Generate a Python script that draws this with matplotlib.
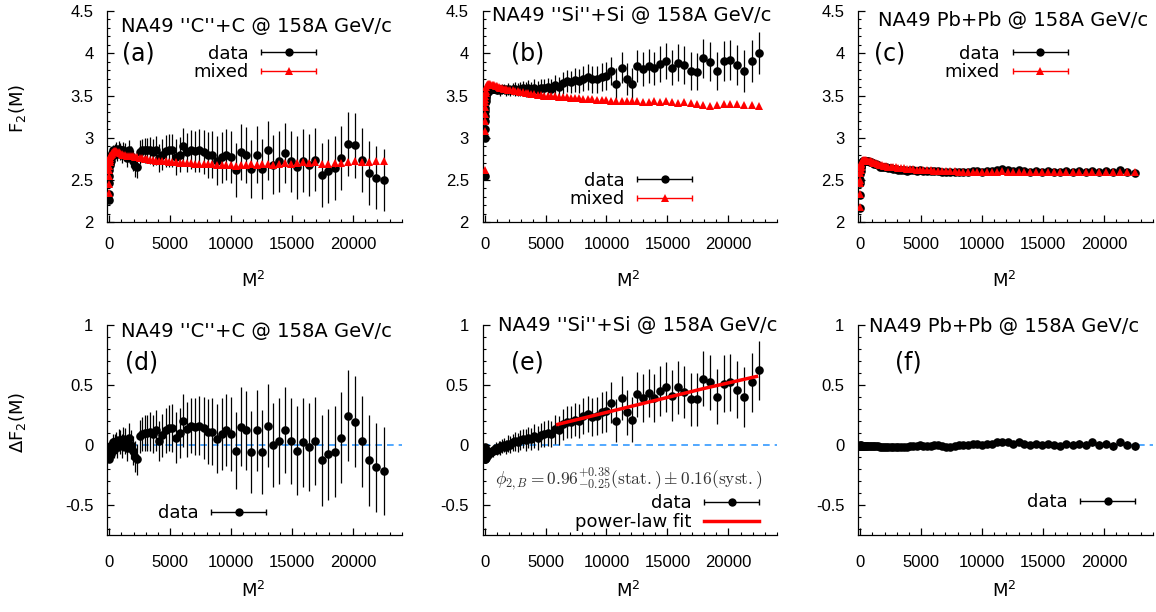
import numpy as np
import matplotlib
matplotlib.use("Agg")
import matplotlib.pyplot as plt
from matplotlib.lines import Line2D
from matplotlib.collections import LineCollection
from matplotlib.container import ErrorbarContainer
from matplotlib.legend_handler import HandlerErrorbar
from matplotlib.ticker import MultipleLocator, FuncFormatter

plt.rcParams["font.family"] = ["DejaVu Sans"]
plt.rcParams["axes.unicode_minus"] = False

# ---------------- data ----------------
# invariant-mass bins M (x axis shows M^2)
M_BINS = [1, 2, 3, 4, 5, 6, 7, 8, 9, 10] + list(range(12, 151, 2))

CC_DATA = [
    2.26, 2.34, 2.47, 2.55, 2.62, 2.68, 2.70, 2.74, 2.73, 2.78,
    2.72, 2.78, 2.82, 2.85, 2.80, 2.85, 2.87, 2.81, 2.87, 2.84,
    2.80, 2.85, 2.83, 2.76, 2.85, 2.78, 2.73, 2.67, 2.65, 2.83,
    2.85, 2.85, 2.85, 2.85, 2.83, 2.85, 2.76, 2.80, 2.84, 2.85,
    2.85, 2.77, 2.80, 2.90, 2.83, 2.86, 2.84, 2.85, 2.83, 2.80,
    2.80, 2.73, 2.77, 2.80, 2.77, 2.62, 2.83, 2.80, 2.63, 2.80,
    2.63, 2.85, 2.68, 2.72, 2.82, 2.72, 2.65, 2.73, 2.68, 2.74,
    2.56, 2.61, 2.64, 2.76, 2.93, 2.91, 2.74, 2.58, 2.53, 2.50]
CC_MIX = [
    2.35, 2.45, 2.55, 2.62, 2.67, 2.71, 2.74, 2.76, 2.78, 2.79,
    2.80, 2.81, 2.82, 2.83, 2.84, 2.84, 2.84, 2.83, 2.83, 2.82,
    2.81, 2.80, 2.80, 2.79, 2.79, 2.78, 2.78, 2.77, 2.77, 2.76,
    2.76, 2.75, 2.75, 2.74, 2.74, 2.73, 2.73, 2.72, 2.72, 2.71,
    2.71, 2.71, 2.70, 2.70, 2.70, 2.70, 2.69, 2.69, 2.69, 2.69,
    2.69, 2.68, 2.68, 2.68, 2.68, 2.67, 2.68, 2.68, 2.69, 2.68,
    2.69, 2.69, 2.68, 2.69, 2.70, 2.69, 2.70, 2.71, 2.70, 2.71,
    2.69, 2.69, 2.70, 2.70, 2.71, 2.72, 2.71, 2.71, 2.72, 2.72]
CC_MIX_ERR = [
    0.01, 0.01, 0.01, 0.01, 0.01, 0.01, 0.01, 0.01, 0.01, 0.01,
    0.01, 0.01, 0.01, 0.01, 0.01, 0.01, 0.01, 0.01, 0.01, 0.01,
    0.01, 0.01, 0.01, 0.01, 0.01, 0.01, 0.01, 0.01, 0.01, 0.01,
    0.01, 0.01, 0.01, 0.01, 0.01, 0.015, 0.015, 0.015, 0.015, 0.015,
    0.02, 0.02, 0.02, 0.02, 0.02, 0.02, 0.02, 0.02, 0.02, 0.02,
    0.025, 0.025, 0.025, 0.025, 0.025, 0.03, 0.03, 0.03, 0.03, 0.03,
    0.03, 0.03, 0.03, 0.03, 0.035, 0.035, 0.035, 0.035, 0.035, 0.035,
    0.035, 0.04, 0.04, 0.04, 0.04, 0.04, 0.04, 0.04, 0.04, 0.04]
CC_DIFF = [
    -0.12, -0.10, -0.08, -0.06, -0.05, -0.03, -0.04, -0.02, -0.05, -0.01,
    -0.08, -0.03, 0.00, 0.02, -0.04, 0.01, 0.03, -0.02, 0.04, 0.02,
    -0.01, 0.05, 0.03, -0.03, 0.06, 0.00, -0.05, -0.10, -0.12, 0.07,
    0.09, 0.10, 0.10, 0.11, 0.09, 0.12, 0.03, 0.08, 0.12, 0.14,
    0.14, 0.06, 0.10, 0.20, 0.13, 0.16, 0.15, 0.16, 0.14, 0.11,
    0.11, 0.05, 0.09, 0.12, 0.09, -0.05, 0.15, 0.12, -0.06, 0.12,
    -0.06, 0.16, 0.00, 0.03, 0.12, 0.03, -0.05, 0.02, -0.02, 0.03,
    -0.13, -0.08, -0.06, 0.06, 0.24, 0.19, 0.03, -0.13, -0.19, -0.22]
CC_ERR = [
    0.02, 0.02, 0.03, 0.03, 0.03, 0.04, 0.04, 0.04, 0.05, 0.05,
    0.05, 0.06, 0.06, 0.07, 0.07, 0.08, 0.08, 0.09, 0.09, 0.10,
    0.10, 0.10, 0.11, 0.11, 0.12, 0.12, 0.12, 0.13, 0.13, 0.14,
    0.14, 0.15, 0.15, 0.16, 0.16, 0.17, 0.17, 0.18, 0.19, 0.19,
    0.20, 0.21, 0.21, 0.22, 0.23, 0.23, 0.24, 0.25, 0.26, 0.27,
    0.28, 0.29, 0.30, 0.30, 0.31, 0.32, 0.33, 0.33, 0.34, 0.34,
    0.35, 0.35, 0.35, 0.36, 0.36, 0.36, 0.37, 0.37, 0.37, 0.37,
    0.38, 0.38, 0.38, 0.38, 0.38, 0.38, 0.38, 0.38, 0.37, 0.37]

SISI_DATA = [
    2.55, 3.00, 3.10, 3.20, 3.26, 3.32, 3.35, 3.41, 3.43, 3.47,
    3.50, 3.54, 3.54, 3.57, 3.58, 3.57, 3.58, 3.58, 3.58, 3.58,
    3.57, 3.58, 3.56, 3.58, 3.58, 3.56, 3.58, 3.56, 3.58, 3.58,
    3.57, 3.58, 3.59, 3.57, 3.59, 3.57, 3.59, 3.57, 3.59, 3.59,
    3.60, 3.58, 3.62, 3.60, 3.65, 3.67, 3.66, 3.68, 3.67, 3.70,
    3.72, 3.69, 3.69, 3.72, 3.73, 3.79, 3.64, 3.83, 3.70, 3.64,
    3.85, 3.81, 3.85, 3.82, 3.87, 3.91, 3.83, 3.89, 3.86, 3.79,
    3.78, 3.94, 3.90, 3.79, 3.91, 3.92, 3.86, 3.79, 3.91, 4.00]
SISI_MIX = [
    2.62, 3.08, 3.20, 3.28, 3.36, 3.42, 3.46, 3.50, 3.53, 3.55,
    3.60, 3.62, 3.63, 3.64, 3.64, 3.64, 3.63, 3.63, 3.62, 3.61,
    3.61, 3.60, 3.59, 3.59, 3.58, 3.58, 3.57, 3.56, 3.56, 3.55,
    3.55, 3.54, 3.54, 3.53, 3.53, 3.52, 3.52, 3.51, 3.51, 3.50,
    3.50, 3.49, 3.49, 3.48, 3.48, 3.48, 3.47, 3.47, 3.47, 3.46,
    3.46, 3.46, 3.45, 3.45, 3.45, 3.44, 3.44, 3.44, 3.43, 3.43,
    3.43, 3.42, 3.42, 3.43, 3.42, 3.43, 3.42, 3.41, 3.42, 3.41,
    3.40, 3.39, 3.38, 3.39, 3.40, 3.40, 3.40, 3.39, 3.39, 3.38]
SISI_MIX_ERR = [
    0.01, 0.01, 0.01, 0.01, 0.01, 0.01, 0.01, 0.01, 0.01, 0.01,
    0.01, 0.01, 0.01, 0.01, 0.01, 0.01, 0.01, 0.01, 0.01, 0.01,
    0.01, 0.01, 0.01, 0.01, 0.01, 0.01, 0.01, 0.01, 0.01, 0.01,
    0.01, 0.01, 0.01, 0.01, 0.01, 0.01, 0.01, 0.01, 0.01, 0.01,
    0.015, 0.015, 0.015, 0.015, 0.015, 0.015, 0.015, 0.015, 0.015, 0.015,
    0.02, 0.02, 0.02, 0.02, 0.02, 0.02, 0.02, 0.02, 0.02, 0.02,
    0.02, 0.02, 0.02, 0.02, 0.02, 0.02, 0.02, 0.02, 0.02, 0.02,
    0.025, 0.025, 0.025, 0.025, 0.025, 0.025, 0.025, 0.025, 0.025, 0.025]
SISI_DIFF = [
    -0.02, -0.05, -0.08, -0.10, -0.12, -0.11, -0.12, -0.10, -0.11, -0.09,
    -0.10, -0.08, -0.09, -0.07, -0.06, -0.07, -0.05, -0.05, -0.04, -0.03,
    -0.04, -0.02, -0.03, -0.01, 0.00, -0.02, 0.01, 0.00, 0.02, 0.03,
    0.02, 0.04, 0.05, 0.04, 0.06, 0.05, 0.07, 0.06, 0.08, 0.09,
    0.10, 0.09, 0.13, 0.12, 0.17, 0.19, 0.19, 0.21, 0.20, 0.24,
    0.26, 0.23, 0.24, 0.27, 0.28, 0.35, 0.20, 0.39, 0.27, 0.21,
    0.42, 0.39, 0.43, 0.39, 0.45, 0.48, 0.41, 0.48, 0.44, 0.38,
    0.38, 0.55, 0.52, 0.40, 0.51, 0.52, 0.46, 0.40, 0.52, 0.62]
SISI_ERR = [
    0.03, 0.03, 0.03, 0.03, 0.03, 0.03, 0.03, 0.03, 0.03, 0.03,
    0.03, 0.03, 0.04, 0.04, 0.04, 0.04, 0.04, 0.05, 0.05, 0.05,
    0.05, 0.05, 0.06, 0.06, 0.06, 0.06, 0.07, 0.07, 0.07, 0.08,
    0.08, 0.08, 0.08, 0.09, 0.09, 0.09, 0.10, 0.10, 0.10, 0.11,
    0.11, 0.11, 0.12, 0.12, 0.13, 0.13, 0.13, 0.14, 0.14, 0.15,
    0.15, 0.16, 0.16, 0.17, 0.17, 0.17, 0.18, 0.18, 0.19, 0.19,
    0.19, 0.20, 0.20, 0.20, 0.21, 0.21, 0.21, 0.22, 0.22, 0.22,
    0.22, 0.23, 0.23, 0.23, 0.24, 0.24, 0.24, 0.25, 0.25, 0.25]
SISI_FIT_X = [6000, 9000, 12000, 15000, 18000, 22300]
SISI_FIT_Y = [0.17, 0.245, 0.32, 0.395, 0.47, 0.57]

PBPB_DATA = [
    2.17, 2.32, 2.46, 2.50, 2.57, 2.61, 2.65, 2.66, 2.68, 2.69,
    2.71, 2.72, 2.73, 2.73, 2.73, 2.73, 2.72, 2.72, 2.71, 2.71,
    2.70, 2.69, 2.69, 2.68, 2.66, 2.66, 2.65, 2.65, 2.64, 2.64,
    2.63, 2.63, 2.62, 2.62, 2.62, 2.61, 2.62, 2.62, 2.61, 2.62,
    2.61, 2.61, 2.61, 2.61, 2.61, 2.60, 2.59, 2.59, 2.60, 2.60,
    2.60, 2.60, 2.61, 2.61, 2.60, 2.61, 2.61, 2.62, 2.63, 2.62,
    2.61, 2.62, 2.61, 2.60, 2.61, 2.59, 2.61, 2.60, 2.59, 2.61,
    2.60, 2.61, 2.60, 2.61, 2.60, 2.61, 2.59, 2.62, 2.60, 2.58]
PBPB_MIX = [
    2.18, 2.33, 2.47, 2.50, 2.58, 2.62, 2.65, 2.67, 2.69, 2.70,
    2.72, 2.73, 2.74, 2.74, 2.74, 2.74, 2.73, 2.73, 2.72, 2.72,
    2.71, 2.70, 2.70, 2.69, 2.68, 2.68, 2.67, 2.67, 2.66, 2.66,
    2.65, 2.65, 2.64, 2.64, 2.64, 2.63, 2.63, 2.63, 2.62, 2.62,
    2.62, 2.62, 2.62, 2.61, 2.61, 2.61, 2.61, 2.61, 2.61, 2.60,
    2.60, 2.60, 2.60, 2.60, 2.60, 2.60, 2.60, 2.60, 2.61, 2.60,
    2.60, 2.60, 2.60, 2.60, 2.60, 2.59, 2.60, 2.60, 2.60, 2.60,
    2.60, 2.60, 2.60, 2.59, 2.60, 2.60, 2.60, 2.60, 2.60, 2.59]
PBPB_MIX_ERR = [
    0.002, 0.002, 0.002, 0.002, 0.002, 0.002, 0.002, 0.002, 0.002, 0.002,
    0.002, 0.002, 0.002, 0.002, 0.002, 0.002, 0.002, 0.002, 0.002, 0.002,
    0.003, 0.003, 0.003, 0.003, 0.003, 0.003, 0.003, 0.003, 0.003, 0.003,
    0.004, 0.004, 0.004, 0.004, 0.004, 0.004, 0.004, 0.004, 0.004, 0.004,
    0.005, 0.005, 0.005, 0.005, 0.005, 0.005, 0.005, 0.005, 0.005, 0.005,
    0.006, 0.006, 0.006, 0.006, 0.006, 0.006, 0.006, 0.006, 0.006, 0.006,
    0.007, 0.007, 0.007, 0.007, 0.007, 0.007, 0.007, 0.007, 0.007, 0.007,
    0.008, 0.008, 0.008, 0.008, 0.008, 0.008, 0.008, 0.008, 0.008, 0.008]
PBPB_DIFF = [
    -0.01, -0.01, -0.01, 0.00, -0.01, -0.01, 0.00, -0.01, -0.01, -0.01,
    -0.01, -0.01, -0.01, -0.01, -0.01, -0.01, -0.01, -0.01, -0.01, -0.01,
    -0.01, -0.01, -0.01, -0.01, -0.02, -0.02, -0.02, -0.02, -0.02, -0.02,
    -0.02, -0.02, -0.02, -0.02, -0.02, -0.02, -0.01, -0.01, -0.01, 0.00,
    -0.01, -0.01, -0.01, 0.00, 0.00, -0.01, -0.02, -0.02, -0.01, 0.00,
    0.00, 0.00, 0.01, 0.01, 0.00, 0.01, 0.01, 0.02, 0.02, 0.02,
    0.01, 0.02, 0.01, 0.00, 0.01, 0.00, 0.01, 0.00, -0.01, 0.01,
    0.00, 0.01, 0.00, 0.02, 0.00, 0.01, -0.01, 0.02, 0.00, -0.01]
PBPB_ERR = [
    0.003, 0.003, 0.003, 0.003, 0.003, 0.003, 0.003, 0.003, 0.003, 0.003,
    0.005, 0.005, 0.005, 0.005, 0.005, 0.005, 0.005, 0.005, 0.005, 0.005,
    0.008, 0.008, 0.008, 0.008, 0.008, 0.008, 0.008, 0.008, 0.008, 0.008,
    0.01, 0.01, 0.01, 0.01, 0.01, 0.01, 0.01, 0.01, 0.01, 0.01,
    0.015, 0.015, 0.015, 0.015, 0.015, 0.015, 0.015, 0.015, 0.015, 0.015,
    0.02, 0.02, 0.02, 0.02, 0.02, 0.02, 0.02, 0.02, 0.02, 0.02,
    0.025, 0.025, 0.025, 0.025, 0.025, 0.025, 0.025, 0.025, 0.025, 0.025,
    0.03, 0.03, 0.03, 0.03, 0.03, 0.03, 0.03, 0.03, 0.03, 0.03]

TITLES = ["NA49 ''C''+C @ 158A GeV/c", "NA49 ''Si''+Si @ 158A GeV/c",
          "NA49 Pb+Pb @ 158A GeV/c"]
PANEL_LABELS = ["(a)", "(b)", "(c)", "(d)", "(e)", "(f)"]
FIT_TEXT = r"$\phi_{2,B} = 0.96^{+0.38}_{-0.25}(\mathrm{stat.}) \pm 0.16(\mathrm{syst.})$"

# ---------------- layout ----------------
x = np.array(M_BINS) ** 2
W, H = 1156, 612
fig = plt.figure(figsize=(W / 100, H / 100), dpi=100)

LEFTS = [107.3, 482.7, 858.3]
AX_W = 294.5
ROWS = [(11.0, 222.3), (325.0, 534.5)]


def make_ax(left, top, bottom):
    return fig.add_axes([left / W, 1 - bottom / H, AX_W / W, (bottom - top) / H])


def style(ax, ylim, xpad):
    ax.set_xlim(-150, 24000)
    ax.set_ylim(*ylim)
    for s in ("top", "right"):
        ax.spines[s].set_visible(False)
    for s in ("left", "bottom"):
        ax.spines[s].set_linewidth(0.9)
    ax.xaxis.set_major_locator(MultipleLocator(5000))
    ax.xaxis.set_minor_locator(MultipleLocator(1000))
    ax.yaxis.set_major_locator(MultipleLocator(0.5))
    ax.yaxis.set_minor_locator(MultipleLocator(0.1))
    ax.xaxis.set_major_formatter(FuncFormatter(lambda v, p: "%d" % round(v)))
    ax.yaxis.set_major_formatter(FuncFormatter(lambda v, p: "%g" % round(v, 2)))
    ax.tick_params(which="both", direction="in", top=False, right=False)
    ax.tick_params(which="major", length=5, width=0.9)
    ax.tick_params(which="minor", length=2.5, width=0.8)
    ax.tick_params(labelsize=12, labelfontfamily="Liberation Sans")
    ax.tick_params(axis="x", pad=xpad)
    ax.tick_params(axis="y", pad=10)


def eb(ax, y, e, kind):
    if kind == "data":
        ax.errorbar(x, y, yerr=e, fmt="o", color="black", ms=6.2, mew=0,
                    elinewidth=0.9, capsize=2.6, capthick=0.9, zorder=3)
    else:
        ax.errorbar(x, y, yerr=e, fmt="^", color="#ff0000", ms=5.5, mew=0,
                    elinewidth=0.9, capsize=2.6, capthick=0.9, zorder=4)


def err_handle(color, marker, ms):
    line = Line2D([], [], color=color, marker=marker, ms=ms, mew=0, ls="none")
    cap = Line2D([], [], color=color, marker="|", ms=5, mew=1.0, ls="none")
    bar = LineCollection([], colors=color, linewidths=1.0)
    return ErrorbarContainer((line, (cap,), (bar,)), has_xerr=True, has_yerr=False)


def legend(ax, handles, labels, anchor):
    ax.legend(handles, labels, loc="center right", bbox_to_anchor=anchor,
              frameon=False, markerfirst=False, fontsize=13, handlelength=3.05,
              handletextpad=0.7, labelspacing=0.05, borderpad=0, borderaxespad=0,
              handler_map={ErrorbarContainer: HandlerErrorbar(xerr_size=1.52)})


top_data = [(CC_DATA, CC_ERR, CC_MIX, CC_MIX_ERR),
            (SISI_DATA, SISI_ERR, SISI_MIX, SISI_MIX_ERR),
            (PBPB_DATA, PBPB_ERR, PBPB_MIX, PBPB_MIX_ERR)]
bot_data = [(CC_DIFF, CC_ERR), (SISI_DIFF, SISI_ERR), (PBPB_DIFF, PBPB_ERR)]

title_pos_top = [(0.0465, 0.929), (0.031, 0.981), (0.067, 0.957)]
title_pos_bot = [(0.046, 0.967), (0.053, 1.0), (0.0375, 0.992)]
label_pos_top = [(0.106, 0.80), (0.152, 0.80), (0.108, 0.80)]
label_pos_bot = [(0.116, 0.819), (0.152, 0.819), (0.171, 0.819)]
leg_top = [(0.709, 0.754), (0.711, 0.153), (0.711, 0.754)]
leg_bot = [(0.539, 0.103), (0.939, 0.105), (0.94, 0.155)]

for i in range(3):
    # top row: F2
    ax = make_ax(LEFTS[i], *ROWS[0])
    style(ax, (2, 4.5), 10.5)
    d, de, m, me = top_data[i]
    eb(ax, d, de, "data")
    eb(ax, m, me, "mixed")
    ax.text(*title_pos_top[i], TITLES[i], transform=ax.transAxes, ha="left",
            va="center", fontsize=14)
    ax.text(*label_pos_top[i], PANEL_LABELS[i], transform=ax.transAxes,
            ha="center", va="center", fontsize=17)
    ax.text(0.495, -0.306, "M$^2$", transform=ax.transAxes, ha="center",
            va="baseline", fontsize=13)
    legend(ax, [err_handle("black", "o", 6), err_handle("#ff0000", "^", 5.5)],
           ["data", "mixed"], leg_top[i])

    # bottom row: Delta F2
    ax = make_ax(LEFTS[i], *ROWS[1])
    style(ax, (-0.75, 1.0), 15)
    ax.axhline(0, color="#3399ff", lw=1.2, ls=(0, (4, 3)), zorder=1)
    y, e = bot_data[i]
    eb(ax, y, e, "data")
    ax.text(*title_pos_bot[i], TITLES[i], transform=ax.transAxes, ha="left",
            va="center", fontsize=14)
    ax.text(*label_pos_bot[i], PANEL_LABELS[i + 3], transform=ax.transAxes,
            ha="center", va="center", fontsize=17)
    ax.text(0.495, -0.298, "M$^2$", transform=ax.transAxes, ha="center",
            va="baseline", fontsize=13)
    if i == 1:
        ax.plot(SISI_FIT_X, SISI_FIT_Y, color="#ff0000", lw=2.5, zorder=5)
        ax.text(0.495, 0.262, FIT_TEXT, transform=ax.transAxes, ha="center",
                va="center", fontsize=12.5, color="#333333", math_fontfamily="cm")
        legend(ax, [err_handle("black", "o", 6),
                    Line2D([], [], color="#ff0000", lw=2.5)],
               ["data", "power-law fit"], leg_bot[i])
    else:
        legend(ax, [err_handle("black", "o", 6)], ["data"], leg_bot[i])

fig.text(18 / W, 1 - 108 / H, "F$_2$(M)", rotation=90, ha="center",
         va="center", fontsize=13)
fig.text(18 / W, 1 - 422 / H, "ΔF$_2$(M)", rotation=90, ha="center",
         va="center", fontsize=13)

fig.savefig("out.png", dpi=100)
